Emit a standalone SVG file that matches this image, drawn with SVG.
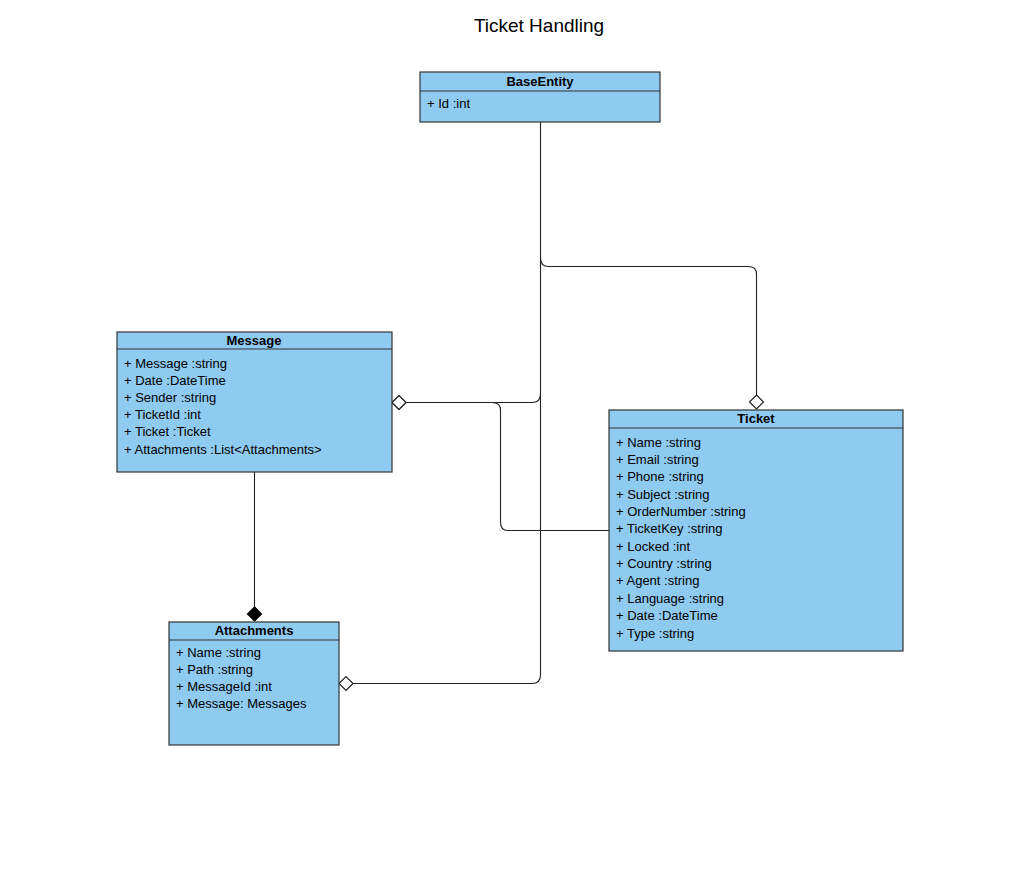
<svg xmlns="http://www.w3.org/2000/svg" width="1024" height="890" viewBox="0 0 1024 890">
<style>
.box{fill:#8fcaf0;stroke:#333;stroke-width:1.2}
.sep{stroke:#333;stroke-width:1.2}
.hdr{font-family:"Liberation Sans",Arial,sans-serif;font-size:13px;font-weight:bold;fill:#000;text-anchor:middle}
.attr{font-family:"Liberation Sans",Arial,sans-serif;font-size:13px;fill:#000}
.title{font-family:"Liberation Sans",Arial,sans-serif;font-size:19px;fill:#000;text-anchor:middle}
.edge{fill:none;stroke:#222;stroke-width:1.1}
</style>
<defs>
<marker id="hollow" markerUnits="userSpaceOnUse" markerWidth="18" markerHeight="18" refX="15" refY="8" orient="auto" viewBox="0 0 18 18">
<path d="M1,8 L8,1 L15,8 L8,15 Z" fill="#fff" stroke="#222" stroke-width="1.2"/>
</marker>
<marker id="filled" markerUnits="userSpaceOnUse" markerWidth="18" markerHeight="18" refX="15" refY="8" orient="auto" viewBox="0 0 18 18">
<path d="M1,8 L8,1 L15,8 L8,15 Z" fill="#000" stroke="#000" stroke-width="1.2"/>
</marker>
</defs>
<rect width="1024" height="890" fill="#fff"/>
<text class="title" x="539" y="32">Ticket Handling</text>
<g id="connectors">
<path class="edge" d="M540.5,122 V258 Q540.5,266.5 548.5,266.5 H748 Q756.5,266.5 756.5,274 V409" marker-end="url(#hollow)"/>
<path class="edge" d="M540.5,258 V394 Q540.5,402.5 532,402.5 H392" marker-end="url(#hollow)"/>
<path class="edge" d="M540.5,394 V675 Q540.5,683.5 532,683.5 H339" marker-end="url(#hollow)"/>
<path class="edge" d="M609,530.5 H508 Q500.5,530.5 500.5,522 V410 Q500.5,402.5 492,402.5 H392" marker-end="url(#hollow)"/>
<path class="edge" d="M254.5,472 V621" marker-end="url(#filled)"/>
</g>
<g id="BaseEntity">
<rect class="box" x="420" y="72" width="240" height="50"/>
<line class="sep" x1="420" y1="91" x2="660" y2="91"/>
<text class="hdr" x="540" y="86">BaseEntity</text>
<text class="attr" x="427" y="107.5">+ Id :int</text>
</g>
<g id="Message">
<rect class="box" x="117" y="332" width="275" height="140"/>
<line class="sep" x1="117" y1="349" x2="392" y2="349"/>
<text class="hdr" x="254" y="345">Message</text>
<text class="attr" x="124" y="367.5">+ Message :string</text>
<text class="attr" x="124" y="384.7">+ Date :DateTime</text>
<text class="attr" x="124" y="401.9">+ Sender :string</text>
<text class="attr" x="124" y="419.1">+ TicketId :int</text>
<text class="attr" x="124" y="436.3">+ Ticket :Ticket</text>
<text class="attr" x="124" y="453.5">+ Attachments :List&lt;Attachments&gt;</text>
</g>
<g id="Ticket">
<rect class="box" x="609" y="410" width="294" height="241"/>
<line class="sep" x1="609" y1="428" x2="903" y2="428"/>
<text class="hdr" x="756" y="423">Ticket</text>
<text class="attr" x="616" y="446.5">+ Name :string</text>
<text class="attr" x="616" y="463.9">+ Email :string</text>
<text class="attr" x="616" y="481.2">+ Phone :string</text>
<text class="attr" x="616" y="498.6">+ Subject :string</text>
<text class="attr" x="616" y="515.9">+ OrderNumber :string</text>
<text class="attr" x="616" y="533.3">+ TicketKey :string</text>
<text class="attr" x="616" y="550.7">+ Locked :int</text>
<text class="attr" x="616" y="568">+ Country :string</text>
<text class="attr" x="616" y="585.4">+ Agent :string</text>
<text class="attr" x="616" y="602.7">+ Language :string</text>
<text class="attr" x="616" y="620.1">+ Date :DateTime</text>
<text class="attr" x="616" y="637.5">+ Type :string</text>
</g>
<g id="Attachments">
<rect class="box" x="169" y="622" width="170" height="123"/>
<line class="sep" x1="169" y1="640" x2="339" y2="640"/>
<text class="hdr" x="254" y="635">Attachments</text>
<text class="attr" x="176" y="656.5">+ Name :string</text>
<text class="attr" x="176" y="673.7">+ Path :string</text>
<text class="attr" x="176" y="690.9">+ MessageId :int</text>
<text class="attr" x="176" y="708.1">+ Message: Messages</text>
</g>
</svg>
